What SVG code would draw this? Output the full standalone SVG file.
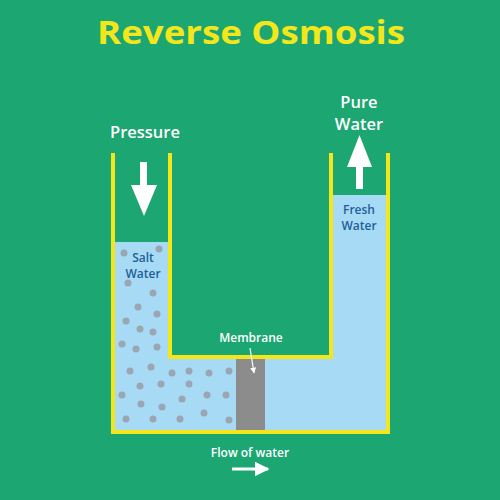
<svg xmlns="http://www.w3.org/2000/svg" width="500" height="500" viewBox="0 0 500 500">
<style>
.t{font-family:"Open Sans","Liberation Sans",Arial,sans-serif;font-weight:600;}
.title{font-family:"Open Sans","Liberation Sans",Arial,sans-serif;font-weight:700;fill:#f3e71b;}
.w{fill:#ffffff;}
.b{fill:#1e5f9a;}
.dot{fill:#9aa6b2;}
.wall{fill:none;stroke:#f3e71b;stroke-width:4;stroke-linejoin:miter;}
</style>
<defs>
<marker id="ah" viewBox="0 0 10 10" refX="9" refY="5" markerWidth="5" markerHeight="5" orient="auto"><path d="M0,0 L10,5 L0,10 z" fill="#fff"/></marker>
</defs>
<rect width="500" height="500" fill="#1ba672"/>
<text class="title" x="251" y="44" font-size="33" text-anchor="middle" textLength="308" lengthAdjust="spacingAndGlyphs">Reverse Osmosis</text>

<g id="vessel">
<path d="M113,242 H170 V357 H331 V195 H388 V432 H113 Z" fill="#a7daf4"/>
<rect x="236" y="359" width="29" height="71" fill="#8c8c8c"/>
<g id="salt">
<circle class="dot" cx="124" cy="253" r="3.5"/><circle class="dot" cx="159" cy="249" r="3.5"/>
<circle class="dot" cx="128" cy="283" r="3.5"/><circle class="dot" cx="153" cy="293" r="3.5"/>
<circle class="dot" cx="138" cy="307" r="3.5"/><circle class="dot" cx="157" cy="314" r="3.5"/>
<circle class="dot" cx="126" cy="321" r="3.5"/><circle class="dot" cx="140" cy="329" r="3.5"/>
<circle class="dot" cx="153" cy="332" r="3.5"/><circle class="dot" cx="122" cy="344" r="3.5"/>
<circle class="dot" cx="136" cy="349" r="3.5"/><circle class="dot" cx="157" cy="347" r="3.5"/>
<circle class="dot" cx="130" cy="371" r="3.5"/><circle class="dot" cx="151" cy="367" r="3.5"/>
<circle class="dot" cx="172" cy="373" r="3.5"/><circle class="dot" cx="189" cy="371" r="3.5"/>
<circle class="dot" cx="209" cy="373" r="3.5"/><circle class="dot" cx="229" cy="371" r="3.5"/>
<circle class="dot" cx="140" cy="386" r="3.5"/><circle class="dot" cx="161" cy="384" r="3.5"/>
<circle class="dot" cx="189" cy="384" r="3.5"/><circle class="dot" cx="122" cy="395" r="3.5"/>
<circle class="dot" cx="141" cy="404" r="3.5"/><circle class="dot" cx="182" cy="399" r="3.5"/>
<circle class="dot" cx="207" cy="395" r="3.5"/><circle class="dot" cx="226" cy="395" r="3.5"/>
<circle class="dot" cx="162" cy="407" r="3.5"/><circle class="dot" cx="126" cy="419" r="3.5"/>
<circle class="dot" cx="153" cy="419" r="3.5"/><circle class="dot" cx="180" cy="419" r="3.5"/>
<circle class="dot" cx="204" cy="413" r="3.5"/><circle class="dot" cx="229" cy="420" r="3.5"/>
</g>
<path class="wall" d="M113,153 V432 H388 V153"/>
<path class="wall" d="M170,153 V357 H331 V153"/>
</g>

<g id="salt-label">
<text class="t b" x="143" y="262" font-size="12" text-anchor="middle">Salt</text>
<text class="t b" x="143" y="278" font-size="12" text-anchor="middle">Water</text>
</g>
<g id="fresh-label">
<text class="t b" x="359" y="214" font-size="12" text-anchor="middle">Fresh</text>
<text class="t b" x="359" y="230" font-size="12" text-anchor="middle">Water</text>
</g>

<g id="pressure">
<text class="t w" x="145" y="138" font-size="16.5" text-anchor="middle">Pressure</text>
<path class="w" d="M140,162 H147 V185 H157 L144,216 L131,185 H140 Z"/>
</g>

<g id="pure">
<text class="t w" x="359" y="108" font-size="16.5" text-anchor="middle">Pure</text>
<text class="t w" x="359" y="130" font-size="16.5" text-anchor="middle">Water</text>
<path class="w" d="M356,189 V167 H347 L359.5,135 L372,167 H363 V189 Z"/>
</g>

<g id="membrane-label">
<text class="t w" x="251" y="342" font-size="12" text-anchor="middle">Membrane</text>
</g>

<g id="connectors">
<line x1="250" y1="348" x2="254" y2="373" stroke="#fff" stroke-width="1.2" marker-end="url(#ah)"/>
<line x1="232" y1="469" x2="268" y2="469" stroke="#fff" stroke-width="3" marker-end="url(#ah)"/>
</g>

<g id="flow-label">
<text class="t w" x="250" y="457" font-size="12" text-anchor="middle">Flow of water</text>
</g>
</svg>
